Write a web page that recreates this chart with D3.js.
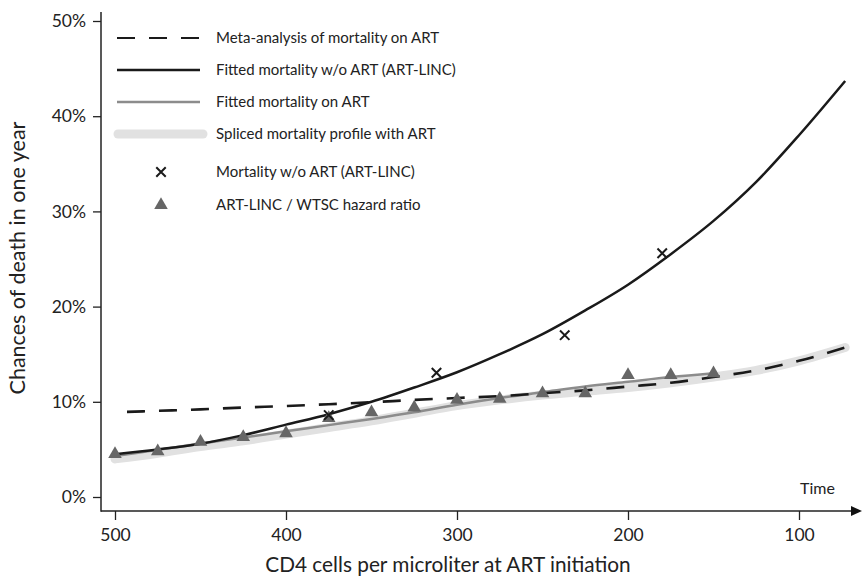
<!DOCTYPE html>
<html>
<head>
<meta charset="utf-8">
<script src="https://cdn.jsdelivr.net/npm/d3@7"></script>
<style>
  html, body { margin: 0; padding: 0; background: #fff; }
  svg { display: block; font-family: Lato, "Open Sans", sans-serif; }
</style>
</head>
<body>
<svg id="chart" width="864" height="580"></svg>
<script>
// CD4 grid (cells per microliter at ART initiation)
const cd4Grid = [500, 475, 450, 425, 400, 375, 350, 325, 300, 275, 250, 225, 200, 175, 150, 125, 100, 73];

// Fitted mortality without ART (ART-LINC), % per year
const fittedNoArt = [4.5, 5.0, 5.6, 6.5, 7.6, 8.7, 10.0, 11.5, 13.1, 15.0, 17.1, 19.6, 22.3, 25.5, 29.0, 33.1, 38.0, 43.7];

// Meta-analysis of mortality on ART, % per year
const metaAnalysis = [8.9, 9.05, 9.2, 9.4, 9.55, 9.75, 9.95, 10.2, 10.4, 10.6, 10.9, 11.2, 11.6, 12.0, 12.6, 13.3, 14.3, 15.7];

// Spliced mortality profile with ART, % per year
const splicedProfile = [4.0, 4.6, 5.3, 5.9, 6.6, 7.3, 8.0, 8.8, 9.6, 10.2, 10.7, 11.1, 11.5, 12.0, 12.6, 13.3, 14.3, 15.7];

// Fitted mortality on ART (CD4 500 to 150), % per year
const cd4OnArt = [500, 475, 450, 425, 400, 375, 350, 325, 300, 275, 250, 225, 200, 175, 150];
const fittedOnArt = [4.3, 4.95, 5.6, 6.25, 6.9, 7.55, 8.2, 8.9, 9.7, 10.4, 11.0, 11.6, 12.1, 12.6, 13.0];

// ART-LINC / WTSC hazard ratio points
const hazardRatio = [4.5, 4.8, 5.8, 6.3, 6.7, 8.3, 8.9, 9.4, 10.2, 10.3, 10.9, 10.9, 12.8, 12.8, 13.0];

// Observed mortality without ART (ART-LINC)
const obsCd4 = [375, 312, 237, 180];
const obsMortality = [8.6, 13.05, 17.0, 25.6];

const xTicks = [500, 400, 300, 200, 100];
const yTicks = [0, 10, 20, 30, 40, 50];

const svg = d3.select("#chart");

const x = d3.scaleLinear().domain([500, 100]).range([115, 799]);
const y = d3.scaleLinear().domain([0, 50]).range([497, 21]);

const axisX0 = 101, axisY0 = 511, axisXEnd = 862, axisYTop = 12;

// Series layers
const line = d3.line().x(d => x(d[0])).y(d => y(d[1])).curve(d3.curveMonotoneX);
const zip = (a, b) => a.map((v, i) => [v, b[i]]);

svg.append("path")
  .datum(zip(cd4Grid, splicedProfile))
  .attr("d", line)
  .attr("fill", "none")
  .attr("stroke", "#e1e1e1")
  .attr("stroke-width", 9)
  .attr("stroke-linecap", "round");

svg.append("path")
  .datum(zip(cd4OnArt, fittedOnArt))
  .attr("d", line)
  .attr("fill", "none")
  .attr("stroke", "#8c8c8c")
  .attr("stroke-width", 2.5);

svg.append("path")
  .datum(zip(cd4Grid, metaAnalysis))
  .attr("d", line)
  .attr("fill", "none")
  .attr("stroke", "#1a1a1a")
  .attr("stroke-width", 2.6)
  .attr("stroke-dasharray", "18,14")
  .attr("stroke-dashoffset", -12);

svg.append("path")
  .datum(zip(cd4Grid, fittedNoArt))
  .attr("d", line)
  .attr("fill", "none")
  .attr("stroke", "#1a1a1a")
  .attr("stroke-width", 2.5);

const tri = d3.symbol().type(d3.symbolTriangle).size(80);
svg.append("g").selectAll("path")
  .data(zip(cd4OnArt, hazardRatio))
  .join("path")
  .attr("d", tri)
  .attr("transform", d => `translate(${x(d[0])},${y(d[1])})`)
  .attr("fill", "#666");

const cross = d3.symbol().type(d3.symbolX).size(60);
svg.append("g").selectAll("path")
  .data(zip(obsCd4, obsMortality))
  .join("path")
  .attr("d", cross)
  .attr("transform", d => `translate(${x(d[0])},${y(d[1])})`)
  .attr("fill", "none")
  .attr("stroke", "#1a1a1a")
  .attr("stroke-width", 2);

// Axes
const yAxis = svg.append("g")
  .attr("transform", `translate(${axisX0},0)`)
  .call(d3.axisLeft(y).tickValues(yTicks).tickSize(8).tickPadding(7).tickFormat(d => d + "%"));
yAxis.select(".domain").remove();
yAxis.selectAll(".tick line").attr("stroke", "#222").attr("stroke-width", 1.3);
yAxis.selectAll(".tick text").attr("font-size", 17.5).attr("fill", "#222")
  .attr("font-family", "Lato, sans-serif");

const xAxis = svg.append("g")
  .attr("transform", `translate(0,${axisY0})`)
  .call(d3.axisBottom(x).tickValues(xTicks).tickSize(9).tickPadding(9));
xAxis.select(".domain").remove();
xAxis.selectAll(".tick line").attr("stroke", "#222").attr("stroke-width", 1.3);
xAxis.selectAll(".tick text").attr("font-size", 17.5).attr("fill", "#222")
  .attr("font-family", "Lato, sans-serif");

svg.append("line")
  .attr("x1", axisX0).attr("x2", axisX0)
  .attr("y1", axisYTop).attr("y2", axisY0 + 0.7)
  .attr("stroke", "#222").attr("stroke-width", 1.5);
svg.append("line")
  .attr("x1", axisX0).attr("x2", axisXEnd - 8)
  .attr("y1", axisY0).attr("y2", axisY0)
  .attr("stroke", "#222").attr("stroke-width", 1.5);
svg.append("path")
  .attr("d", `M${axisXEnd},${axisY0} L${axisXEnd - 11},${axisY0 - 5} L${axisXEnd - 11},${axisY0 + 5} Z`)
  .attr("fill", "#111");

svg.append("text")
  .attr("x", 800).attr("y", 494)
  .attr("font-size", 16).attr("fill", "#222")
  .text("Time");

// Axis titles
svg.append("text")
  .attr("transform", "translate(25,258) rotate(-90)")
  .attr("text-anchor", "middle")
  .attr("font-size", 21.5).attr("fill", "#222")
  .text("Chances of death in one year");

svg.append("text")
  .attr("x", 448).attr("y", 572)
  .attr("text-anchor", "middle")
  .attr("font-size", 20.8).attr("fill", "#222")
  .text("CD4 cells per microliter at ART initiation");

// Legend
const legendLabels = [
  "Meta-analysis of mortality on ART",
  "Fitted mortality w/o ART (ART-LINC)",
  "Fitted mortality on ART",
  "Spliced mortality profile with ART",
  "Mortality w/o ART (ART-LINC)",
  "ART-LINC / WTSC hazard ratio"
];
const legendRows = [38, 70, 102, 134, 172, 205];
const lg = svg.append("g");

lg.append("line").attr("x1", 117).attr("x2", 200).attr("y1", legendRows[0]).attr("y2", legendRows[0])
  .attr("stroke", "#1a1a1a").attr("stroke-width", 2).attr("stroke-dasharray", "18,14");
lg.append("line").attr("x1", 117).attr("x2", 200).attr("y1", legendRows[1]).attr("y2", legendRows[1])
  .attr("stroke", "#1a1a1a").attr("stroke-width", 2.5);
lg.append("line").attr("x1", 117).attr("x2", 200).attr("y1", legendRows[2]).attr("y2", legendRows[2])
  .attr("stroke", "#8c8c8c").attr("stroke-width", 2.5);
lg.append("line").attr("x1", 118).attr("x2", 203).attr("y1", legendRows[3]).attr("y2", legendRows[3])
  .attr("stroke", "#e1e1e1").attr("stroke-width", 9).attr("stroke-linecap", "round");
lg.append("path").attr("d", cross).attr("transform", `translate(161,${legendRows[4]})`)
  .attr("fill", "none").attr("stroke", "#1a1a1a").attr("stroke-width", 2);
lg.append("path").attr("d", tri).attr("transform", `translate(161,${legendRows[5]})`)
  .attr("fill", "#666");

lg.selectAll("text.lbl")
  .data(legendLabels)
  .join("text")
  .attr("class", "lbl")
  .attr("x", 216)
  .attr("y", (d, i) => legendRows[i] + 5)
  .attr("font-size", 15).attr("fill", "#222")
  .text(d => d);
</script>
</body>
</html>
